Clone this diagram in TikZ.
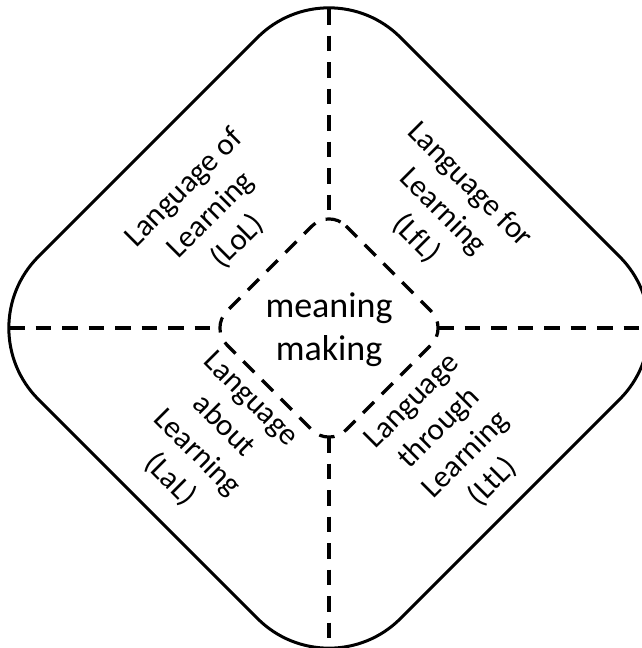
\documentclass[tikz,border=0pt]{standalone}
\usepackage{fontspec}
\setmainfont{Carlito}
\begin{document}
\begin{tikzpicture}[x=1pt,y=-1pt,
  outline/.style={line width=3pt, rounded corners=101pt},
  innerline/.style={line width=3.2pt, dash pattern=on 15.5pt off 11pt, rounded corners=24pt},
  divider/.style={line width=3.2pt, dash pattern=on 15.5pt off 11pt},
  lbl/.style={align=center, font=\fontsize{31}{38}\selectfont, inner sep=0pt},
  core/.style={align=center, font=\fontsize{36}{43}\selectfont, inner sep=0pt}]
\useasboundingbox (0,0) rectangle (642,648);
\clip (0,0) rectangle (642,648);
% outer rounded diamond
\draw[outline] (329,-34) -- (691,328) -- (329,690) -- (-33,328) -- cycle;
% inner rounded diamond
\draw[innerline] (329,209) -- (448,328) -- (329,447) -- (210,328) -- cycle;
% tips
\coordinate (ot) at (329,9);
\coordinate (ob) at (329,647);
\coordinate (ol) at (9,328);
\coordinate (or) at (649,328);
\coordinate (it) at (329,219);
\coordinate (ib) at (329,437);
\coordinate (il) at (220,328);
\coordinate (ir) at (438,328);
\draw[divider] (ot) -- (it);
\draw[divider] (ib) -- (ob);
\draw[divider] (ol) -- (il);
\draw[divider] (ir) -- (or);
% labels
\node[core] (mm) at (329,330) {meaning\\making};
\node[lbl, rotate=45] (lol) at (211,215) {Language of\\Learning\\(LoL)};
\node[lbl, rotate=-45] (lfl) at (443,212) {Language for\\Learning\\(LfL)};
\node[lbl, rotate=-45] (lal) at (210,440) {Language\\about\\Learning\\(LaL)};
\node[lbl, rotate=45] (ltl) at (453,442) {Language\\through\\Learning\\(LtL)};
\end{tikzpicture}
\end{document}
